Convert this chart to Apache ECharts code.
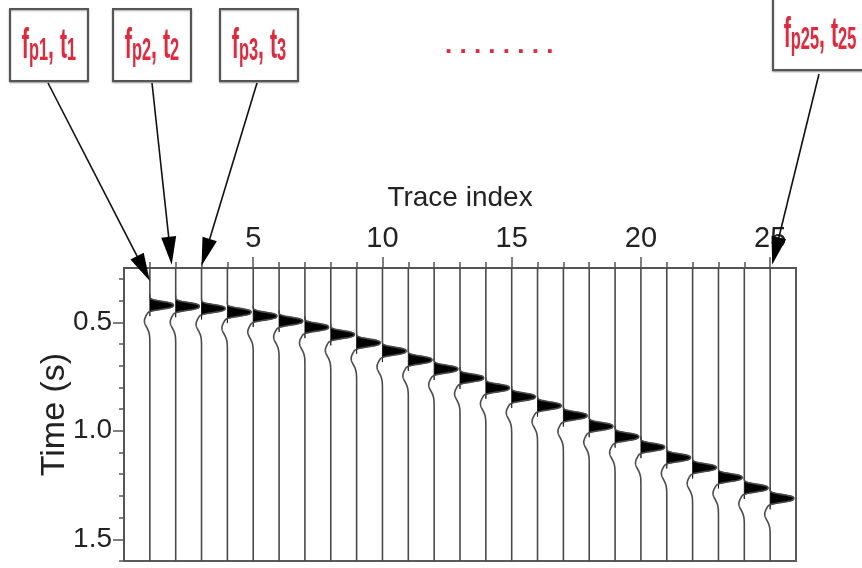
<!DOCTYPE html>
<html>
<head>
<meta charset="utf-8">
<script src="https://cdn.jsdelivr.net/npm/echarts@6/dist/echarts.min.js"></script>
<style>
  html, body { margin: 0; padding: 0; background: #fff; }
  #chart { width: 862px; height: 568px; }
</style>
</head>
<body>
<div id="chart"></div>
<script>
// Trace numbers and the picked first-arrival time (s) on each trace
const traceIndex = [1, 2, 3, 4, 5, 6, 7, 8, 9, 10, 11, 12, 13, 14, 15, 16, 17, 18, 19, 20, 21, 22, 23, 24, 25];
const arrivalTime = [0.422, 0.427, 0.437, 0.454, 0.472, 0.495, 0.523, 0.557, 0.595, 0.633,
                     0.674, 0.716, 0.757, 0.803, 0.844, 0.885, 0.931, 0.980, 1.028, 1.076,
                     1.124, 1.170, 1.216, 1.264, 1.312];

// Axis ticks
const xMajorTicks = [5, 10, 15, 20, 25];
const xMinorTicks = [1, 2, 3, 4, 6, 7, 8, 9, 11, 12, 13, 14, 16, 17, 18, 19, 21, 22, 23, 24];
const yMajorTicks = [0.5, 1.0, 1.5];
const yMinorTicks = [0.3, 0.4, 0.6, 0.7, 0.8, 0.9, 1.1, 1.2, 1.3, 1.4, 1.6];
const timeRange = [0.25, 1.6];
const traceRange = [0, 26];

// Callout labels: subscript of f, subscript of t, trace pointed at, time of arrow tip
const calloutFreq = ['p1', 'p2', 'p3', 'p25'];
const calloutTime = ['1', '2', '3', '25'];
const calloutTrace = [1, 2, 3, 25];
const calloutTipTime = [0.31, 0.235, 0.24, 0.235];

const FONT = "'Liberation Sans', Arial, Helvetica, sans-serif";
const RED = '#e8263a';

// Source wavelet: blunt positive peak followed by a broad trough (amplitude in trace units)
function wavelet(dt) {
  return 0.92 * Math.exp(-Math.pow(Math.abs(dt) / 0.021, 3))
       - 0.21 * Math.exp(-Math.pow((dt - 0.072) / 0.04, 2));
}

const chart = echarts.init(document.getElementById('chart'), null, { renderer: 'canvas' });

function renderTrace(params, api) {
  const x0 = api.value(0);
  const t0 = api.value(1);
  const step = 0.002;
  const line = [];
  for (let t = timeRange[0]; t <= timeRange[1] + 1e-9; t += step) {
    line.push(api.coord([x0 + wavelet(t - t0), t]));
  }
  const fill = [api.coord([x0, t0 - 0.05])];
  for (let t = t0 - 0.05; t <= t0 + 0.05 + 1e-9; t += step / 2) {
    fill.push(api.coord([x0 + Math.max(0, wavelet(t - t0)), t]));
  }
  fill.push(api.coord([x0, t0 + 0.05]));
  return {
    type: 'group',
    children: [
      { type: 'polygon', shape: { points: fill }, style: { fill: '#000', stroke: '#000', lineWidth: 0.8 } },
      { type: 'polyline', shape: { points: line }, style: { stroke: '#4a4a4a', lineWidth: 1.6, fill: null } }
    ]
  };
}

const axisLineStyle = { color: '#555', width: 2 };
const tickStyle = { color: '#555', width: 1.5 };
const labelStyle = { fontSize: 29, color: '#222', fontFamily: FONT };

const option = {
  backgroundColor: '#fff',
  animation: false,
  grid: {
    left: 124, top: 268, right: 66, bottom: 7,
    show: true, borderColor: '#5a5a5a', borderWidth: 2, backgroundColor: 'transparent'
  },
  xAxis: [
    {
      type: 'value', position: 'top', min: traceRange[0], max: traceRange[1],
      name: 'Trace index', nameLocation: 'middle', nameGap: 56,
      nameTextStyle: { fontSize: 28, color: '#222', fontFamily: FONT },
      axisLine: { show: true, lineStyle: axisLineStyle },
      axisTick: { show: true, inside: false, length: 11, customValues: xMajorTicks, lineStyle: tickStyle },
      axisLabel: Object.assign({ customValues: xMajorTicks, margin: 15 }, labelStyle),
      splitLine: { show: false }
    },
    {
      type: 'value', position: 'top', min: traceRange[0], max: traceRange[1],
      axisLine: { show: false },
      axisTick: { show: true, inside: false, length: 6, customValues: xMinorTicks, lineStyle: tickStyle },
      axisLabel: { show: false },
      splitLine: { show: false }
    }
  ],
  yAxis: [
    {
      type: 'value', position: 'left', inverse: true, min: timeRange[0], max: timeRange[1],
      name: 'Time (s)', nameLocation: 'middle', nameGap: 52, nameRotate: 90, nameMoveOverlap: false,
      nameTextStyle: { fontSize: 34, color: '#222', fontFamily: FONT },
      axisLine: { show: true, lineStyle: axisLineStyle },
      axisTick: { show: true, inside: false, length: 11, customValues: yMajorTicks, lineStyle: tickStyle },
      axisLabel: Object.assign({ customValues: yMajorTicks, margin: 12, formatter: v => v.toFixed(1) }, labelStyle, { fontSize: 28 }),
      splitLine: { show: false }
    },
    {
      type: 'value', position: 'left', inverse: true, min: timeRange[0], max: timeRange[1],
      axisLine: { show: false },
      axisTick: { show: true, inside: false, length: 5, customValues: yMinorTicks, lineStyle: tickStyle },
      axisLabel: { show: false },
      splitLine: { show: false }
    }
  ],
  series: [
    {
      type: 'custom',
      coordinateSystem: 'cartesian2d',
      xAxisIndex: 0, yAxisIndex: 0,
      clip: true,
      encode: { x: 0, y: 1 },
      data: traceIndex.map((x, i) => [x, arrivalTime[i]]),
      renderItem: renderTrace,
      silent: true
    }
  ]
};

chart.setOption(option);

// Callout boxes (pixel layout) with arrows pointing at the traces
const boxes = [
  { x: 10, y: 9, w: 78, h: 72, tail: [48, 83] },
  { x: 113, y: 9, w: 78, h: 72, tail: [152, 83] },
  { x: 220, y: 9, w: 78, h: 72, tail: [257, 83] },
  { x: 773, y: -6, w: 100, h: 76, tail: [819, 74] }
];
const tipOffsetPx = [0, -4, 0, 2];

function arrow(tail, tip) {
  const dx = tip[0] - tail[0], dy = tip[1] - tail[1];
  const len = Math.sqrt(dx * dx + dy * dy);
  const ux = dx / len, uy = dy / len;
  const headLen = 28, headW = 15;
  const bx = tip[0] - ux * headLen, by = tip[1] - uy * headLen;
  const px = -uy * headW / 2, py = ux * headW / 2;
  return [
    { type: 'line', shape: { x1: tail[0], y1: tail[1], x2: bx + ux * 2, y2: by + uy * 2 },
      style: { stroke: '#111', lineWidth: 1.6 }, z: 100 },
    { type: 'polygon', shape: { points: [[tip[0], tip[1]], [bx + px, by + py], [bx - px, by - py]] },
      style: { fill: '#000' }, z: 100 }
  ];
}

const graphics = [];
boxes.forEach((b, i) => {
  graphics.push({
    type: 'rect', shape: { x: b.x, y: b.y, width: b.w, height: b.h },
    style: { fill: '#fff', stroke: '#555', lineWidth: 2, shadowBlur: 2, shadowColor: 'rgba(0,0,0,0.35)', shadowOffsetY: 1 },
    z: 90
  });
  const cx = i === 3 ? 820 : b.x + b.w / 2;
  const cy = i === 3 ? 36 : 47;
  graphics.push({
    type: 'text', x: cx, y: cy, scaleX: 0.82, scaleY: 1.6, z: 95,
    style: {
      text: '{big|f}{sub|' + calloutFreq[i] + '}{big|, t}{sub|' + calloutTime[i] + '}',
      align: 'center', verticalAlign: 'middle',
      fill: RED, fontFamily: FONT,
      rich: {
        big: { fontSize: 26, fontWeight: 'bold', fill: RED, fontFamily: FONT, verticalAlign: 'bottom', lineHeight: 25 },
        sub: { fontSize: 20, fontWeight: 'bold', fill: RED, fontFamily: FONT, verticalAlign: 'bottom', lineHeight: 25 }
      }
    }
  });
  const tip = chart.convertToPixel({ xAxisIndex: 0, yAxisIndex: 0 }, [calloutTrace[i], calloutTipTime[i]]);
  tip[0] += tipOffsetPx[i];
  arrow(b.tail, tip).forEach(g => graphics.push(g));
});

// Ellipsis between the third and the last callout
graphics.push({
  type: 'text', x: 445, y: 59, z: 95,
  style: { text: '. . . . . . . .', fontSize: 26, fontWeight: 'bold', fontFamily: FONT, fill: RED, align: 'left', verticalAlign: 'bottom' }
});

chart.setOption({ graphic: graphics });
</script>
</body>
</html>
